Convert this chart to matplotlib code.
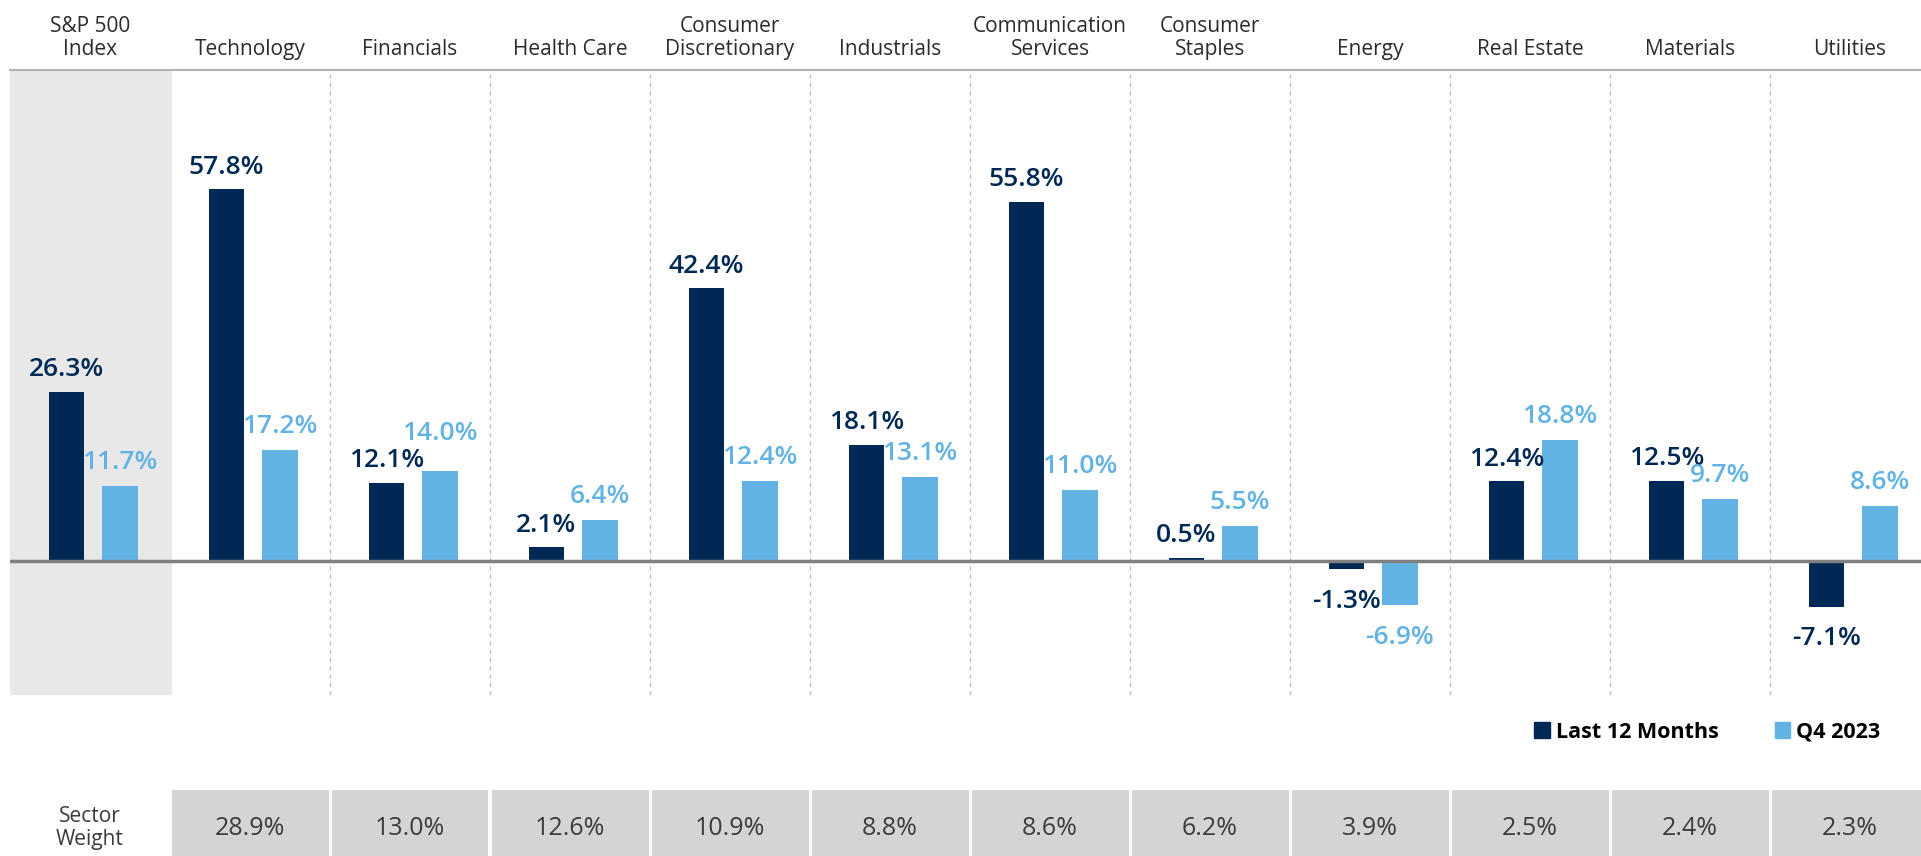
"""Sector returns: last 12 months vs Q4 2023, with sector weights."""

import matplotlib

matplotlib.use("Agg")
import matplotlib.pyplot as plt
from matplotlib.patches import Patch

plt.rcParams["font.family"] = ["Open Sans", "DejaVu Sans"]

SECTORS = [
    "S&P 500\nIndex", "Technology", "Financials", "Health Care", "Consumer\nDiscretionary",
    "Industrials", "Communication\nServices", "Consumer\nStaples", "Energy", "Real Estate",
    "Materials", "Utilities",
]
LAST_12M = [26.3, 57.8, 12.1, 2.1, 42.4, 18.1, 55.8, 0.5, -1.3, 12.4, 12.5, -7.1]
Q4_2023 = [11.7, 17.2, 14.0, 6.4, 12.4, 13.1, 11.0, 5.5, -6.9, 18.8, 9.7, 8.6]
SECTOR_WEIGHT = [28.9, 13.0, 12.6, 10.9, 8.8, 8.6, 6.2, 3.9, 2.5, 2.4, 2.3]

DARK = "#002855"
LIGHT = "#62b3e4"

W, H = 1921, 856
fig = plt.figure(figsize=(W / 100, H / 100), dpi=100)

# main chart area in pixel terms: x from 10, y from 70 to 695, 160 px per group
left = 10 / W
ax = fig.add_axes([left, 1 - 695 / H, 1 - left, (695 - 70) / H])
x_max = -0.5 + (W - 10) / 160
ax.set_xlim(-0.5, x_max)
ax.set_ylim(-(695 - 561) / 6.43, (561 - 70) / 6.43)

ax.axvspan(-0.5, 0.51, color="#e8e8e8", zorder=0, lw=0)
for k in range(1, len(SECTORS) - 1):
    ax.axvline(k + 0.5, color="#bdbdbd", lw=1, ls=(0, (3, 3)), zorder=1)

xs = range(len(SECTORS))
bw = 0.22
dark_x = [i + 0.02 - 0.167 for i in xs]
light_x = [i + 0.02 + 0.167 for i in xs]
ax.bar(dark_x, LAST_12M, width=bw, color=DARK, zorder=2)
ax.bar(light_x, Q4_2023, width=bw, color=LIGHT, zorder=2)
ax.axhline(0, color="#808080", lw=2.5, zorder=3)


def _label(x, v, color, extra=0):
    above = v >= 0
    ax.annotate(
        f"{v:.1f}%",
        (x, v),
        xytext=(0, 7 + extra if above else -14),
        textcoords="offset points",
        ha="center",
        va="bottom" if above else "top",
        fontsize=19,
        fontweight="semibold",
        color=color,
        zorder=4,
    )


for x, v in zip(dark_x, LAST_12M):
    _label(x, v, DARK)
for x, v, d in zip(light_x, Q4_2023, LAST_12M):
    # lift the light label when it would collide with its neighbour
    _label(x, v, LIGHT, extra=11 if 0 < v - d < 3 else 1)

for i, name in enumerate(SECTORS):
    ax.text(i, 1.016, name, transform=ax.get_xaxis_transform(), ha="center", va="bottom",
            fontsize=15, color="#2b2b2b", linespacing=1.15)

for side in ["left", "right", "bottom"]:
    ax.spines[side].set_visible(False)
ax.spines["top"].set_color("#b3b3b3")
ax.spines["top"].set_linewidth(1.5)
ax.set_xticks([])
ax.set_yticks([])

fig.legend(
    handles=[Patch(color=DARK, label="Last 12 Months"), Patch(color=LIGHT, label="Q4 2023")],
    loc="center right",
    bbox_to_anchor=(1900 / W, 1 - 732 / H),
    ncol=2,
    frameon=False,
    handlelength=0.7,
    handleheight=0.7,
    handletextpad=0.3,
    columnspacing=2.6,
    prop={"size": 15.5, "weight": "bold"},
)

# sector weight table
tax = fig.add_axes([left, 0, 1 - left, (H - 790) / H])
tax.set_xlim(-0.5, x_max)
tax.set_ylim(0, 1)
tax.axis("off")
cell_x = range(1, len(SECTOR_WEIGHT) + 1)
tax.bar(cell_x, [1] * len(SECTOR_WEIGHT), width=157 / 160, bottom=0, color="#d4d4d4", lw=0)
for x, w in zip(cell_x, SECTOR_WEIGHT):
    tax.text(x, 0.42, f"{w:.1f}%", ha="center", va="center", fontsize=18, color="#3c3c3c")
tax.text(0, 0.42, "Sector\nWeight", ha="center", va="center", fontsize=15, color="#3a3a3a",
         linespacing=1.15)

fig.savefig("out.png", dpi=100)
